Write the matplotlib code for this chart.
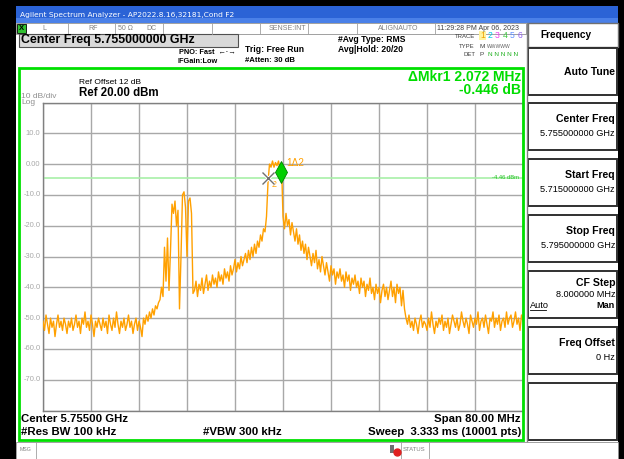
import numpy as np
import matplotlib.pyplot as plt
from matplotlib.patches import Rectangle

plt.rcParams['font.family'] = ['Liberation Sans', 'DejaVu Sans']

# analyzer settings
center_ghz = 5.755
span_mhz = 80.0
ref_level = 20.0
db_div = 10.0
display_line = -4.46

# trace, one value per 0.25 MHz from -40 MHz to +40 MHz around center
floor_left = [-51, -54, -49, -52, -55, -50, -53, -51, -56, -52, -49, -53, -51, -54, -50, -52, -55, -51, -53, -50,
              -54, -52, -49, -53, -51, -55, -50, -52, -48, -53, -51, -54, -49, -52, -56, -51, -53, -50, -52, -54,
              -50, -53, -51, -55, -49, -52, -54, -50, -53, -48, -52, -55, -51, -53, -50, -54, -52, -49, -53, -51,
              -55, -52, -50, -54, -51, -53, -56, -50, -52, -49, -51, -48, -50, -47, -49, -46]
burst = [-47, -45, -44, -40, -43, -27, -38, -24, -41, -28, -13, -16, -12, -20, -15, -47, -30, -10, -9, -14,
         -30, -12, -11, -16, -42]
skirt_left = [-41, -38, -43, -39, -41, -37, -42, -39, -36, -41, -38, -40, -36, -39, -37, -40, -35, -38, -36, -39,
              -34, -37, -35, -38, -33, -36, -34, -31, -35, -32, -34, -30, -33, -31, -29, -32, -28, -31, -27, -30,
              -26, -29, -25, -27, -23, -25, -21, -22, -17]
peak_top = [-6, 0, -1, 1, -1, 0.5, -0.5, 1, -1.5, 0, -17]
skirt_right = [-21, -16, -20, -18, -23, -19, -22, -25, -21, -26, -23, -28, -25, -29, -26, -31, -27, -30, -33, -29,
               -32, -28, -34, -31, -35, -30, -33, -36, -32, -35, -38, -33, -36, -34, -39, -35, -37, -34, -38, -36,
               -40, -35, -38, -36, -41, -37, -39, -36, -40, -38, -42, -37, -40, -38, -43, -39, -41, -37, -42, -40,
               -44, -39, -42, -40, -45, -41, -39, -43, -40, -44, -41, -38, -43, -40, -45, -39, -42, -40, -46, -41,
               -47]
floor_right = [-50, -52, -49, -53, -51, -54, -50, -52, -55, -51, -49, -53, -51, -52, -54, -50, -53, -48, -52, -55,
               -51, -53, -50, -52, -49, -54, -51, -53, -50, -55, -52, -49, -51, -53, -50, -54, -52, -48, -51, -53,
               -50, -52, -55, -49, -51, -53, -50, -52, -48, -54, -51, -50, -53, -49, -52, -55, -50, -51, -48, -53,
               -50, -52, -49, -54, -51, -50, -53, -48, -52, -50, -49, -53, -51, -48, -52, -50, -54, -49, -51]

# markers: offset from center in MHz, level in dBm
mkr2 = (-2.45, -4.6)
mkr1 = (-0.38, -2.5)

y_ticks = [10, 0, -10, -20, -30, -40, -50, -60, -70]
y_labels = ['10.0', '0.00', '-10.0', '-20.0', '-30.0', '-40.0', '-50.0', '-60.0', '-70.0']

softkeys = [('Center Freq', '5.755000000 GHz'), ('Start Freq', '5.715000000 GHz'),
            ('Stop Freq', '5.795000000 GHz'), ('CF Step', '8.000000 MHz'), ('Freq Offset', '0 Hz')]

trace = np.array(floor_left + burst + skirt_left + peak_top + skirt_right + floor_right)
freq = np.linspace(-span_mhz / 2, span_mhz / 2, len(trace))

W, H = 624, 459
fig = plt.figure(figsize=(W / 100, H / 100), dpi=100)

# screen overlay in pixel coords
scr = fig.add_axes([0, 0, 1, 1], zorder=2)
scr.set_xlim(0, W)
scr.set_ylim(H, 0)
scr.axis('off')
scr.patch.set_alpha(0)


def txt(x, y, s, size, **kw):
    kw.setdefault('va', 'center')
    scr.text(x, y, s, fontsize=size, **kw)


def box(x, y, w, h, fc='white', ec='#606060', lw=1.0, **kw):
    scr.add_patch(Rectangle((x, y), w, h, facecolor=fc, edgecolor=ec, lw=lw, **kw))


# black frame around the window
box(0, 0, 16, H, fc='black', ec='none')
box(0, 0, W, 6, fc='black', ec='none')
box(618, 0, 6, H, fc='black', ec='none')

# title bar
box(16, 6, 602, 17, fc='#2b63d6', ec='none')
box(16, 18, 602, 5, fc='#4a80e8', ec='none')
txt(20, 15, 'Agilent Spectrum Analyzer - AP2022.8.16,32181,Cond F2', 5.4, color='white', family='DejaVu Sans')

# status row
box(16, 23, 510, 11, fc='white', ec='#909090', lw=0.6)
box(17, 24, 9, 9, fc='#30c030', ec='black', lw=0.6)
txt(21.5, 28.5, 'X', 5.5, color='black', ha='center', weight='bold')
for sx in [68, 115, 163, 212, 260, 308, 357, 435]:
    scr.plot([sx, sx], [23, 34], color='#a0a0a0', lw=0.6)
txt(42, 29, 'L', 5, color='#808080')
txt(88, 29, 'RF', 5, color='#808080')
txt(118, 29, '50 Ω', 5, color='#808080')
txt(146, 29, 'DC', 5, color='#808080')
txt(306, 29, 'SENSE:INT', 5, color='#808080', ha='right')
txt(398, 29, 'ALIGNAUTO', 5, color='#808080', ha='center')
txt(437, 29, '11:29:28 PM Apr 06, 2023', 5, color='#404040')

# center freq entry
box(19, 34, 219, 13, fc='#d9d9d9', ec='#505050', lw=0.8)
txt(21, 40.5, 'Center Freq 5.755000000 GHz', 8.9, weight='bold')
txt(236, 52, 'PNO: Fast  ←·→', 5.3, ha='right', weight='bold')
txt(177, 61.5, 'IFGain:Low', 5.3, weight='bold')
txt(245, 49, 'Trig: Free Run', 6.2, weight='bold')
txt(245, 60.5, '#Atten: 30 dB', 5.6, weight='bold')
txt(338, 39, '#Avg Type: RMS', 6.2, weight='bold')
txt(338, 49, 'Avg|Hold: 20/20', 6.2, weight='bold')

# trace table
txt(475, 36, 'TRACE', 4.3, ha='right', color='#404040')
txt(475, 46, 'TYPE', 4.3, ha='right', color='#404040')
txt(475, 55, 'DET', 4.3, ha='right', color='#404040')
box(479, 31, 7, 9, fc='#fff4a0', ec='none')
for k, c in enumerate(['#f0a000', '#00c8e8', '#f040f0', '#40c840', '#6090ff', '#9060f0']):
    txt(482.5 + k * 7.5, 36, str(k + 1), 6.2, color=c, ha='center')
txt(480, 46, 'M', 4.6, color='#404040')
txt(487, 46, 'WWWWW', 3.6, color='#606060')
txt(480, 55, 'P', 4.6, color='#404040')
txt(488, 55, 'N N N N N', 4.6, color='#20b020')

# right softkey panel
scr.plot([527, 527], [23, 441], color='#808080', lw=1.0)
box(528, 23, 90, 24, fc='white', ec='#707070', lw=1.0)
txt(566, 35, 'Frequency', 7.3, ha='center', weight='bold')
box(528, 48, 89, 47, fc='white', ec='#303030', lw=1.4)
txt(615, 72, 'Auto Tune', 7.6, ha='right', weight='bold')
for k, (name, val) in enumerate(softkeys):
    top = 103 + k * 56
    box(528, top, 89, 47, fc='white', ec='#303030', lw=1.4)
    if name == 'CF Step':
        txt(615, top + 12, name, 7.6, ha='right', weight='bold')
        txt(615, top + 23.5, val, 6.6, ha='right')
        txt(530, top + 35, 'Auto', 6.6, ha='left')
        scr.plot([530, 546], [top + 39, top + 39], color='black', lw=0.6)
        txt(615, top + 35, 'Man', 6.6, ha='right', weight='bold')
    else:
        txt(615, top + 16, name, 7.6, ha='right', weight='bold')
        txt(615, top + 31, val, 6.6, ha='right')
box(528, 383, 89, 57, fc='white', ec='#303030', lw=1.4)

# green measurement frame
box(19, 68, 504, 372, fc='none', ec='#00e000', lw=2.0, zorder=5)
txt(521, 77, 'ΔMkr1 2.072 MHz', 10, ha='right', weight='bold', color='#00dd00')
txt(521, 90, '-0.446 dB', 10, ha='right', weight='bold', color='#00dd00')
txt(79, 82.5, 'Ref Offset 12 dB', 6.0)
txt(79, 93.5, 'Ref 20.00 dBm', 8.3, weight='bold')
txt(21, 96.5, '10 dB/div', 6.0, color='#909090')
txt(21, 102.5, 'Log', 6.0, color='#909090')
for t, lab in zip(y_ticks, y_labels):
    py = 102.5 + (ref_level - t) / db_div * 30.8
    txt(40.5, py, lab, 5.4, ha='right', color='#a8a8a8')

# bottom annotations
txt(21, 419.5, 'Center 5.75500 GHz', 8.2, weight='bold')
txt(21, 432, '#Res BW 100 kHz', 8.2, weight='bold')
txt(203, 432, '#VBW 300 kHz', 8.2, weight='bold')
txt(521, 419.5, 'Span 80.00 MHz', 8.2, ha='right', weight='bold')
txt(521, 432, 'Sweep  3.333 ms (10001 pts)', 8.2, ha='right', weight='bold')

# message bar
box(16, 442, 602, 17, fc='white', ec='#909090', lw=0.6)
for sx in [36, 401, 429]:
    scr.plot([sx, sx], [442, 459], color='#a0a0a0', lw=0.6)
txt(20, 449.5, 'MSG', 3.8, color='#808080')
box(390, 445, 4, 8, fc='#707070', ec='none')
scr.plot([397], [452], 'o', ms=5, color='#e02020')
txt(403, 449.5, 'STATUS', 4.3, color='#808080')

# graticule
ax = fig.add_axes([43 / W, (H - 410.5) / H, 480 / W, 308 / H], zorder=1)
ax.set_xlim(-span_mhz / 2, span_mhz / 2)
ax.set_ylim(ref_level - 10 * db_div, ref_level)
ax.set_xticks(np.arange(-40, 41, 8))
ax.set_yticks(np.arange(-80, 21, 10))
ax.tick_params(length=0, labelbottom=False, labelleft=False)
ax.grid(True, color='#a8a8a8', lw=1.0)
for s in ax.spines.values():
    s.set_color('#808080')
    s.set_linewidth(1.0)

ax.axhline(display_line, color='#a8f0a8', lw=1.2, zorder=2)
ax.text(39.3, display_line, '-4.46 dBm', fontsize=4.2, color='#20c020', ha='right', va='center')

ax.plot(freq, trace, color='#ffa000', lw=1.0, zorder=3)

# markers
ax.plot(mkr2[0], mkr2[1], marker='x', ms=9, mew=2.4, color='white', zorder=4)
ax.plot(mkr2[0], mkr2[1], marker='x', ms=9, mew=1.0, color='#707070', zorder=5)
ax.text(mkr2[0] + 0.6, mkr2[1] - 2.0, '2', fontsize=6.5, color='#ffa000', va='center')
ax.plot(mkr1[0], mkr1[1], marker='d', ms=11, mew=0.6, color='#00d000', mec='#008000', zorder=5)
ax.text(mkr1[0] + 0.9, 0.3, '1Δ2', fontsize=7.2, color='#ffa000', va='center')

fig.savefig('out.png', dpi=100)
